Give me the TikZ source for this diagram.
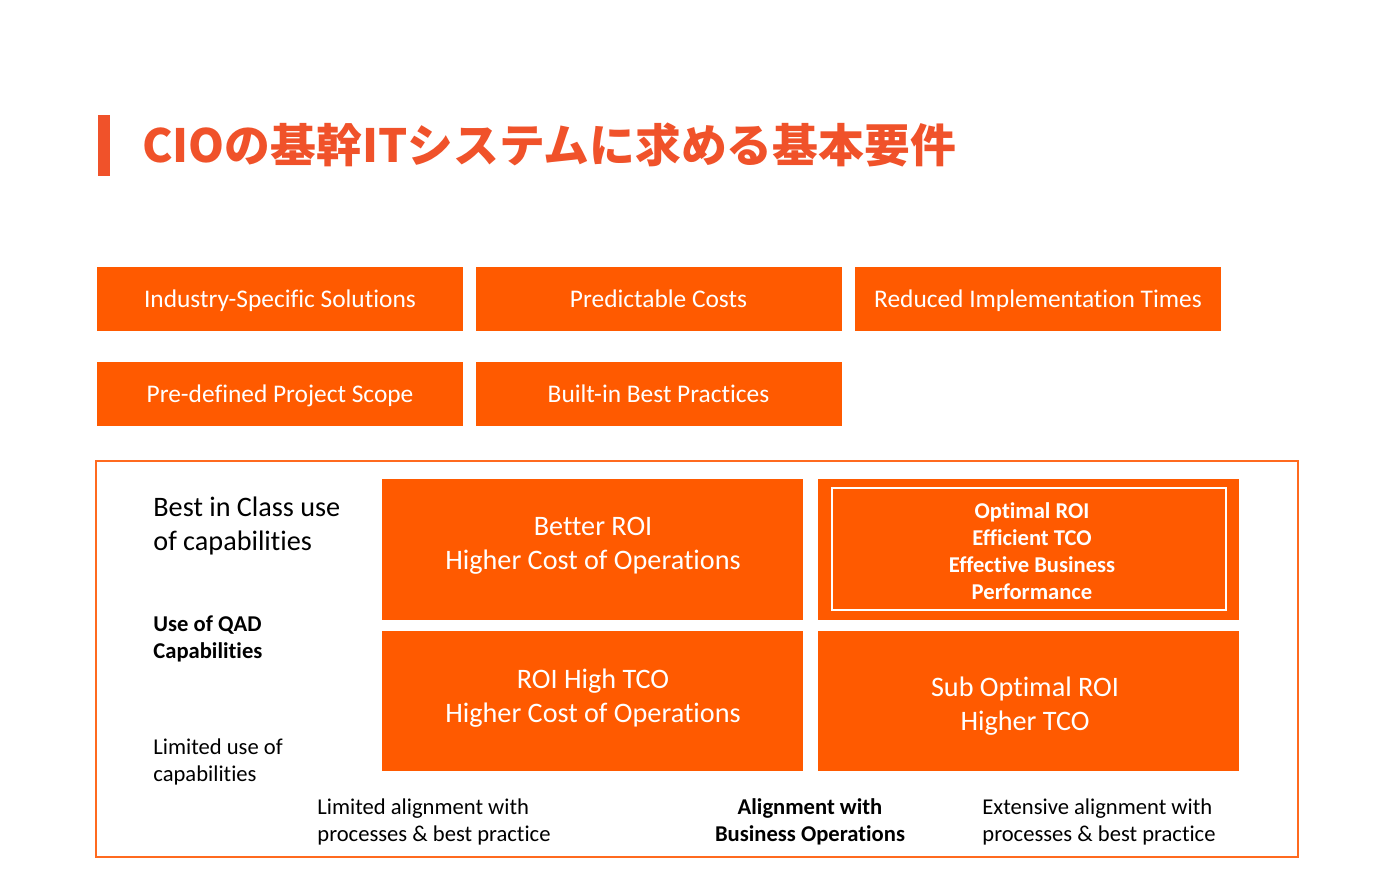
\documentclass[tikz,border=0pt]{standalone}
\usepackage{fontspec}
\setmainfont{Carlito}[Ligatures={NoCommon}]
\newfontfamily\cjk{Noto Sans CJK JP}
\definecolor{qorange}{HTML}{FF5A00}
\definecolor{titred}{HTML}{F0522A}
\definecolor{frameor}{HTML}{FF6A1F}
\tikzset{
  topbox/.style={fill=qorange, minimum width=183pt, minimum height=32pt, inner sep=0pt,
    text height=10.5pt, text depth=2pt,
    text=white, font=\fontsize{12.7}{15}\selectfont},
  quad/.style={fill=qorange, minimum width=210.5pt, minimum height=70.5pt, inner sep=0pt},
  qtext/.style={text=white, align=center, inner sep=0pt, font=\fontsize{14.1}{17}\selectfont},
  qbold/.style={text=white, align=center, inner sep=0pt, font=\bfseries\fontsize{11.3}{13.6}\selectfont},
  axtext/.style={text=black, align=left, anchor=west, inner sep=0pt, font=\fontsize{11.3}{13.7}\selectfont},
}
\begin{document}
\begin{tikzpicture}[x=0.5pt,y=-0.5pt]
\useasboundingbox[fill=white] (0,0) rectangle (1400,875);
% title
\node[fill=titred, minimum width=6pt, minimum height=30.5pt, inner sep=0pt] (bar) at (104,145.5) {};
\node[anchor=west, inner sep=0pt, text=titred, font=\cjk\bfseries\fontsize{22.9}{27}\selectfont] (title) at (142,145) {CIOの基幹ITシステムに求める基本要件};
% top boxes
\node[topbox] (b1) at (280,299) {Industry-Specific Solutions};
\node[topbox] (b2) at (658.5,299) {Predictable Costs};
\node[topbox] (b3) at (1038,299) {Reduced Implementation Times};
\node[topbox] (b4) at (280,394) {Pre-defined Project Scope};
\node[topbox] (b5) at (658.5,394) {Built-in Best Practices};
% frame
\node[draw=frameor, line width=0.75pt, minimum width=601pt, minimum height=198pt, inner sep=0pt] (frame) at (697,659) {};
% quadrants
\node[quad] (tl) at (592.5,549.5) {};
\node[quad] (tr) at (1028.5,549.5) {};
\node[quad, minimum height=70pt] (bl) at (592.5,701) {};
\node[quad, minimum height=70pt] (br) at (1028.5,701) {};
\node[draw=white, line width=1pt, minimum width=197pt, minimum height=61pt, inner sep=0pt] (trin) at (1029,549) {};
\node[qtext] (tlt) at (593,546) {Better ROI\\Higher Cost of Operations};
\node[qbold] (trt) at (1032,551) {Optimal ROI\\Efficient TCO\\Effective Business\\Performance};
\node[qtext] (blt) at (593,698) {ROI High TCO\\Higher Cost of Operations};
\node[qtext] (brt) at (1025,706) {Sub Optimal ROI\\Higher TCO};
% axis labels
\node[axtext, font=\fontsize{14.1}{17}\selectfont] (best) at (153,526) {Best in Class use\\of capabilities};
\node[axtext, font=\bfseries\fontsize{11.3}{13.7}\selectfont] (use) at (153,639) {Use of QAD\\Capabilities};
\node[axtext] (lim) at (153,762) {Limited use of\\capabilities};
\node[axtext] (xl) at (317,822) {Limited alignment with\\processes \& best practice};
\node[text=black, align=center, inner sep=0pt, font=\bfseries\fontsize{11.3}{13.7}\selectfont] (xm) at (810,822) {Alignment with\\Business Operations};
\node[axtext] (xr) at (982,822) {Extensive alignment with\\processes \& best practice};
\end{tikzpicture}
\end{document}
